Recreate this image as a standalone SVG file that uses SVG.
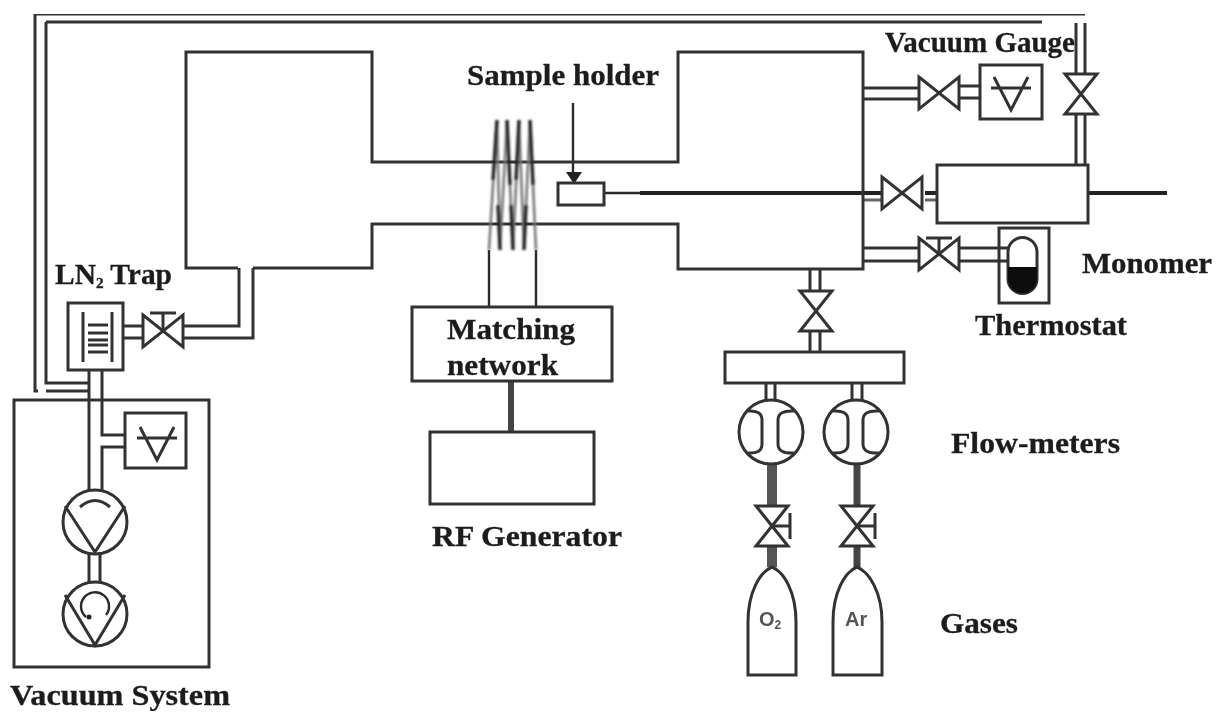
<svg xmlns="http://www.w3.org/2000/svg" xmlns:xlink="http://www.w3.org/1999/xlink" width="1218" height="713" viewBox="0 0 1218 713">
<style>
.l{fill:none;stroke:#333;stroke-width:3}
.w{fill:#fff;stroke:#333;stroke-width:3}
.n{fill:none;stroke:#2a2a2a;stroke-width:2.4}
.t{font-family:"Liberation Serif","Times New Roman",serif;font-weight:700;font-size:29px;fill:#1c1c1c;stroke:#1c1c1c;stroke-width:.3}
.s{font-family:"Liberation Sans",Arial,sans-serif;font-weight:700;font-size:20px;fill:#555}
</style>
<defs>
<filter id="soft" x="0" y="0" width="100%" height="100%"><feGaussianBlur stdDeviation="0.7"/></filter>
<filter id="soft2" x="-20%" y="-5%" width="140%" height="110%"><feGaussianBlur stdDeviation="1"/></filter>
<g id="vh"><path class="w" d="M-20,-16 L20,16 V-16 L-20,16 Z"/></g>
<g id="vv"><path class="w" d="M-16,-20 H16 L-16,20 H16 Z"/></g>
<g id="gauge"><path class="l" d="M-17,-14 L0,19 L17,-14 M-20,-3 H20"/></g>
</defs>
<rect width="1218" height="713" fill="#fff"/>
<g filter="url(#soft)">
<g id="connectors">
<path class="l" d="M35,14 H1085 M46,22 H1042 M35,14 V391 H38 M46,22 V383 H89 M46,391 H89"/>
<path class="l" d="M1076,23 V74 M1085,23 V74 M1076,115 V165 M1085,115 V165"/>
<path class="l" d="M239,268 V326 H183 M253,268 V338 H183 M123,326 H143 M123,338 H143"/>
<path class="l" d="M89,370 V490 M102,370 V435 H125 M125,447 H102 V490"/>
<path class="l" d="M89,552 V582 M100,552 V582"/>
<path class="l" d="M863,88 H919 M863,99 H919 M959,86 H980 M959,98 H980"/>
<path class="l" d="M863,248 H919 M863,261 H919 M959,248 H1008 M959,261 H1008"/>
<path class="l" d="M810,269 V291 M820,269 V291 M810,331 V352 M820,331 V352"/>
<path class="l" d="M766,383 V400 M775,383 V400 M852,383 V400 M862,383 V400"/>
<path d="M772,463 V505 M772,546 V567" fill="none" stroke="#555" stroke-width="10"/>
<path d="M857,463 V505 M857,546 V567" fill="none" stroke="#444" stroke-width="7"/>
<path d="M511,381 V432" fill="none" stroke="#444" stroke-width="6"/>
<path class="n" d="M604,193 H640"/>
<path d="M640,193 H882 M925,193 H937 M1088,193 H1167" fill="none" stroke="#222" stroke-width="4"/>
<path d="M863,200 H882 M925,200 H937" fill="none" stroke="#666" stroke-width="3"/>
<path class="n" d="M489,250 V307 M536,250 V307"/>
<path class="n" d="M573,103 V174"/>
<path d="M566,172 H582 L574,184 Z" fill="#222"/>
</g>
<g id="chamber"><path class="l" d="M238,268 H186 V52 H372 V162 H678 V52 H863 V269 H678 V224 H372 V268 H253"/></g>
<g id="coil" filter="url(#soft2)">
<path d="M489,250 L497,120 L500,250 L507,120 L513,250 L519,120 L524,250 L530,120 L536,250" fill="none" stroke="#777" stroke-width="2.6"/>
<path d="M497,120 L493,180 M507,120 L510,185 M519,120 L516,180 M530,120 L533,185 M500,250 L498,205 M513,250 L511,205 M524,250 L526,205" fill="none" stroke="#222" stroke-width="3.4"/>
</g>
<g id="sample-holder"><rect class="w" x="558" y="183" width="46" height="22"/><text class="t" x="467" y="85" textLength="192" lengthAdjust="spacingAndGlyphs">Sample holder</text></g>
<g id="matching-network"><rect class="w" x="412" y="307" width="200" height="74"/><text class="t" x="447" y="339" textLength="128" lengthAdjust="spacingAndGlyphs">Matching</text><text class="t" x="447" y="375" textLength="111" lengthAdjust="spacingAndGlyphs">network</text></g>
<g id="rf-generator"><rect class="l" x="430" y="432" width="164" height="72"/><text class="t" x="432" y="546" textLength="190" lengthAdjust="spacingAndGlyphs">RF Generator</text></g>
<g id="lnq-trap"><rect class="w" x="68" y="303" width="55" height="67"/><path class="l" d="M83,312 V362 M112,312 V362 M88,325 H108 M88,333 H108 M88,340 H108 M88,345 H108 M88,352 H108"/><text class="t" x="55" y="284" textLength="117" lengthAdjust="spacingAndGlyphs">LN<tspan font-size="15" dy="4">2</tspan><tspan dy="-4"> Trap</tspan></text></g>
<g id="trap-valve"><use xlink:href="#vh" href="#vh" x="163" y="331"/><path class="l" d="M163,331 V313 M150,313 H176"/></g>
<g id="vacuum-system"><rect class="l" x="14" y="400" width="195" height="267"/><text class="t" x="10" y="705" textLength="220" lengthAdjust="spacingAndGlyphs">Vacuum System</text></g>
<g id="vacuum-gauge-left"><rect class="w" x="125" y="413" width="61" height="55"/><use xlink:href="#gauge" href="#gauge" x="157" y="441"/></g>
<g id="pump-1"><circle class="l" cx="95" cy="522" r="32"/><path class="l" d="M65,506 L95,552 L125,506 M80,507 Q95,494 110,507"/></g>
<g id="pump-2"><circle class="l" cx="95" cy="614" r="32"/><path class="l" d="M65,595 L95,645 L125,595"/><path class="n" d="M86,617 A14,14 0 1 1 106,615"/><circle cx="89" cy="617" r="2.5" fill="#222"/></g>
<g id="vacuum-gauge"><rect class="w" x="980" y="65" width="62" height="54"/><use xlink:href="#gauge" href="#gauge" x="1011" y="91"/><text class="t" x="885" y="52" textLength="190" lengthAdjust="spacingAndGlyphs">Vacuum Gauge</text></g>
<g id="gauge-valve"><use xlink:href="#vh" href="#vh" x="939" y="93"/></g>
<g id="top-valve"><use xlink:href="#vv" href="#vv" x="1081" y="94"/></g>
<g id="monomer-vessel"><rect class="w" x="937" y="165" width="151" height="58"/><text class="t" x="1082" y="273" textLength="130" lengthAdjust="spacingAndGlyphs">Monomer</text></g>
<g id="monomer-valve"><use xlink:href="#vh" href="#vh" x="902" y="193"/></g>
<g id="thermostat-valve"><use xlink:href="#vh" href="#vh" x="939" y="254"/><path class="l" d="M939,254 V238 M926,238 H952"/></g>
<g id="thermostat"><rect class="l" x="999" y="228" width="50" height="75"/><path class="l" d="M1008,252 A14.500,14.500 0 0 1 1037,252 V279 A14.500,14.500 0 0 1 1008,279 Z"/><path d="M1008,267 H1037 V279 A14.500,14.500 0 0 1 1008,279 Z" fill="#111"/><text class="t" x="975" y="335" textLength="152" lengthAdjust="spacingAndGlyphs">Thermostat</text></g>
<g id="gas-valve"><use xlink:href="#vv" href="#vv" x="816" y="311"/></g>
<g id="manifold"><rect class="l" x="725" y="352" width="179" height="31"/></g>
<g id="flowmeter-1"><circle class="l" cx="771" cy="432" r="32"/><path class="l" d="M748,411 Q762,410 762,420 V444 Q762,454 748,453 M794,411 Q778,410 778,420 V444 Q778,454 794,453"/></g>
<g id="flowmeter-2"><circle class="l" cx="856" cy="432" r="32"/><path class="l" d="M833,411 Q848,410 848,420 V444 Q848,454 833,453 M879,411 Q863,410 863,420 V444 Q863,454 879,453"/><text class="t" x="951" y="453" textLength="169" lengthAdjust="spacingAndGlyphs">Flow-meters</text></g>
<g id="o2-valve"><use xlink:href="#vv" href="#vv" x="772" y="526"/><path class="l" d="M772,526 H790 M790,513 V539"/></g>
<g id="ar-valve"><use xlink:href="#vv" href="#vv" x="857" y="526"/><path class="l" d="M857,526 H875 M875,513 V539"/></g>
<g id="o2-cylinder"><path class="w" d="M748,675 V622 C748,592 760,572 772,567 C784,572 796,592 796,622 V675 Z"/><text class="s" x="759" y="626">O<tspan font-size="12" dy="3">2</tspan></text></g>
<g id="ar-cylinder"><path class="w" d="M833,675 V622 C833,592 845,572 857,567 C869,572 882,592 882,622 V675 Z"/><text class="s" x="845" y="626">Ar</text><text class="t" x="940" y="633" textLength="78" lengthAdjust="spacingAndGlyphs">Gases</text></g>
</g>
</svg>
